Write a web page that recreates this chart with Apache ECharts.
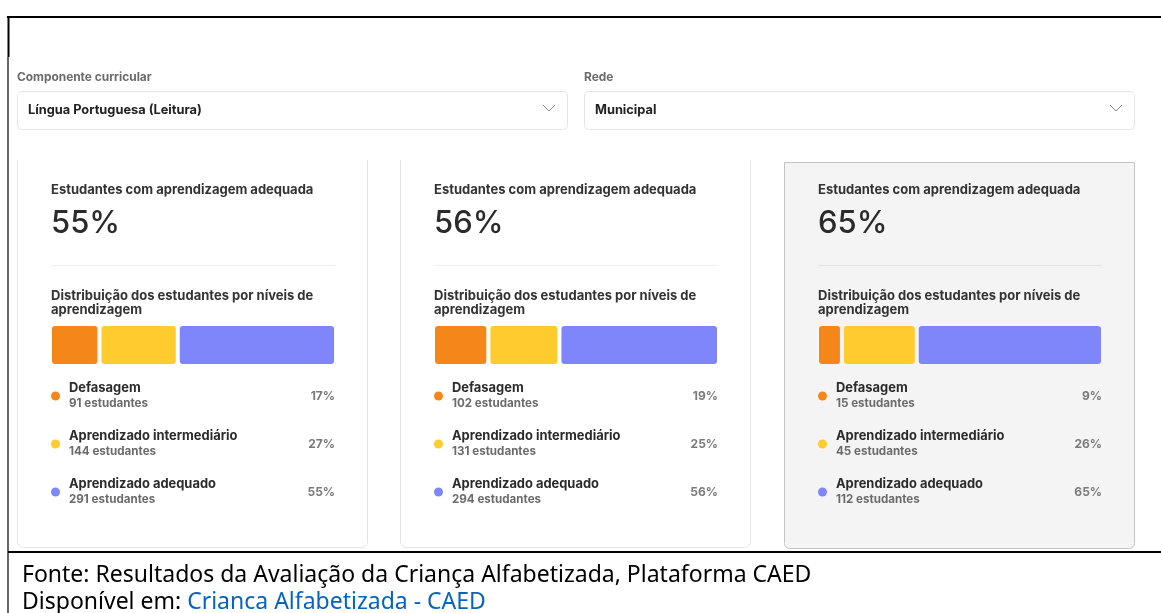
<!DOCTYPE html>
<html>
<head>
<meta charset="utf-8">
<style>
html, body { margin: 0; padding: 0; background: #fff; }
#chart { width: 1161px; height: 613px; }
</style>
<script src="https://cdn.jsdelivr.net/npm/echarts@6/dist/echarts.min.js"></script>
</head>
<body>
<div id="chart"></div>
<script>
// dados
var niveis = ['Defasagem', 'Aprendizado intermediário', 'Aprendizado adequado'];
var estudantes = [
	[91, 144, 291],
	[102, 131, 294],
	[15, 45, 112]
];
var percentuais = [
	[17, 27, 55],
	[19, 25, 56],
	[9, 26, 65]
];
var adequada = ['55%', '56%', '65%'];
var cores = ['#f5871a', '#ffcb2e', '#7f86f9'];

var fonteCard = 'Inter, "Noto Sans", sans-serif';
var deslocX = [0, 383, 767];
var fundoCard = ['#ffffff', '#ffffff', '#f4f4f4'];

var chart = echarts.init(document.getElementById('chart'));

function texto(x, y, t, size, color, weight, extra) {
	var st = {
		x: x, y: y, text: t,
		font: (weight || 'bold') + ' ' + size + 'px ' + fonteCard,
		fill: color,
		verticalAlign: 'middle'
	};
	if (extra) for (var k in extra) st[k] = extra[k];
	return { type: 'text', style: st };
}

var graficos = [];

/*-----cartões-----*/
[0, 1].forEach(function(i) {
	graficos.push({
		type: 'rect',
		shape: { x: 17.5 + deslocX[i], y: 140.5, width: 350, height: 407, r: 6 },
		style: { fill: '#fff', stroke: '#e3e3e3', lineWidth: 1 }
	});
});
graficos.push({
	type: 'rect',
	shape: { x: 10, y: 135, width: 1151, height: 25 },
	style: { fill: '#fff' }
});
graficos.push({
	type: 'rect',
	shape: { x: 784.5, y: 162.5, width: 350, height: 386, r: [0, 0, 5, 5] },
	style: { fill: '#f4f4f4', stroke: '#c4c4c4', lineWidth: 1 }
});

/*-----filtros-----*/
[
	{ x: 17, label: 'Componente curricular', valor: 'Língua Portuguesa (Leitura)' },
	{ x: 584, label: 'Rede', valor: 'Municipal' }
].forEach(function(f) {
	graficos.push(texto(f.x, 77.5, f.label, 11.9, '#6b6b6b', 'bold'));
	graficos.push({
		type: 'rect',
		shape: { x: f.x + 0.5, y: 91.5, width: 550, height: 38, r: 4 },
		style: { fill: '#fff', stroke: '#e6e6e6', lineWidth: 1 }
	});
	graficos.push(texto(f.x + 11, 110, f.valor, 12.8, '#222', 'bold'));
	graficos.push({
		type: 'polyline',
		shape: { points: [[f.x + 526, 105], [f.x + 532, 111], [f.x + 538, 105]] },
		style: { stroke: '#8a8a8a', lineWidth: 1, fill: null }
	});
});

/*-----conteúdo dos cartões-----*/
var grids = [], xAxes = [], yAxes = [], series = [];
deslocX.forEach(function(dx, i) {
	var x0 = 51 + dx;
	graficos.push(texto(x0, 190, 'Estudantes com aprendizagem adequada', 13, '#333', 'bold'));
	graficos.push(texto(x0, 224, adequada[i], 31, '#2b2b2b', '500'));
	graficos.push({
		type: 'line',
		shape: { x1: x0, y1: 265.5, x2: x0 + 284, y2: 265.5 },
		style: { stroke: i === 2 ? '#e4e4e4' : '#eeeeee', lineWidth: 1 }
	});
	graficos.push(texto(x0, 296, 'Distribuição dos estudantes por níveis de', 13, '#333', 'bold'));
	graficos.push(texto(x0, 310, 'aprendizagem', 13, '#333', 'bold'));

	niveis.forEach(function(n, k) {
		var y = 388 + k * 48;
		graficos.push({
			type: 'circle',
			shape: { cx: x0 + 4.5, cy: y + 8, r: 4.5 },
			style: { fill: cores[k] }
		});
		graficos.push(texto(x0 + 18, y, n, 12.9, '#2b2b2b', 'bold'));
		graficos.push(texto(x0 + 18, y + 16, estudantes[i][k] + ' estudantes', 11.6, '#6b6b6b', 'bold'));
		graficos.push(texto(x0 + 284, y + 8, percentuais[i][k] + '%', 12, '#7a7a7a', 'bold', { align: 'right' }));
	});

	var total = estudantes[i].reduce(function(a, b) { return a + b; }, 0);
	grids.push({ left: x0 - 1, top: 324, width: 286, height: 42 });
	xAxes.push({ type: 'value', gridIndex: i, min: 0, max: total, show: false });
	yAxes.push({ type: 'category', gridIndex: i, data: ['dist'], show: false });
	niveis.forEach(function(n, k) {
		series.push({
			name: n,
			type: 'bar',
			stack: 'card' + i,
			xAxisIndex: i,
			yAxisIndex: i,
			barWidth: 42,
			silent: true,
			itemStyle: {
				color: cores[k],
				borderColor: fundoCard[i],
				borderWidth: 2,
				borderRadius: 4
			},
			data: [estudantes[i][k]]
		});
	});
});

/*-----moldura e fonte-----*/
graficos.push({ type: 'line', shape: { x1: 7, y1: 17, x2: 1161, y2: 17 }, style: { stroke: '#000', lineWidth: 2 } });
graficos.push({ type: 'line', shape: { x1: 8.5, y1: 16, x2: 8.5, y2: 57 }, style: { stroke: '#000', lineWidth: 2 } });
graficos.push({ type: 'line', shape: { x1: 8, y1: 57, x2: 8, y2: 613 }, style: { stroke: '#000', lineWidth: 1.2 } });
graficos.push({ type: 'line', shape: { x1: 8, y1: 552, x2: 1161, y2: 552 }, style: { stroke: '#000', lineWidth: 2 } });
graficos.push({
	type: 'text',
	style: {
		x: 22, y: 575, verticalAlign: 'middle',
		text: 'Fonte: Resultados da Avaliação da Criança Alfabetizada, Plataforma CAED',
		font: '23px "Noto Sans", sans-serif', fill: '#000'
	}
});
graficos.push({
	type: 'text',
	style: {
		x: 22, y: 602, verticalAlign: 'middle',
		text: '{p|Disponível em: }{a|Crianca Alfabetizada - CAED}',
		font: '23px "Noto Sans", sans-serif',
		rich: {
			p: { fill: '#000', fontSize: 23, fontFamily: 'Noto Sans' },
			a: { fill: '#0563c1', fontSize: 23, fontFamily: 'Noto Sans' }
		}
	}
});

chart.setOption({
	animation: false,
	grid: grids,
	xAxis: xAxes,
	yAxis: yAxes,
	series: series,
	graphic: { elements: graficos }
});
</script>
</body>
</html>
